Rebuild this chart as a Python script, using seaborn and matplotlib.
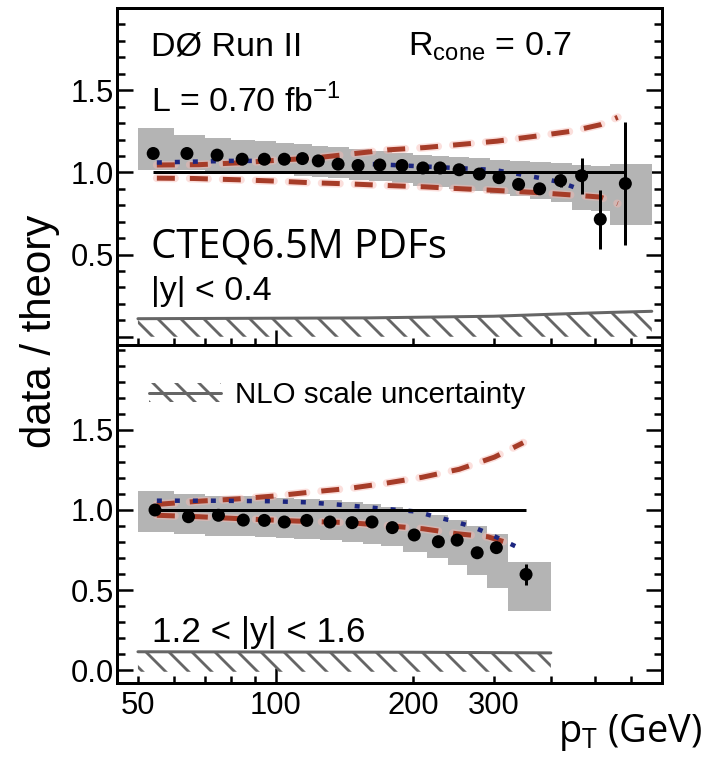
import matplotlib
matplotlib.use("Agg")
import matplotlib.pyplot as plt
import seaborn as sns
from matplotlib.patches import Patch
from matplotlib.lines import Line2D
from matplotlib.ticker import MultipleLocator, FuncFormatter, LogLocator, NullFormatter

DPI = 138
W, H = 708, 760
PT = 72 / DPI  # points per pixel

# ---------------- |y| < 0.4 ----------------
pt_central = [54, 64, 74.5, 84.5, 94.5, 104.5, 114.5, 124, 137, 151.5, 169, 189,
              210, 229, 252, 279, 308, 340, 378, 420, 467, 513, 582]
ratio_central = [1.115, 1.115, 1.105, 1.08, 1.08, 1.08, 1.084, 1.07, 1.05, 1.042, 1.045, 1.042,
                 1.027, 1.027, 1.016, 0.99, 0.968, 0.927, 0.90, 0.95, 0.98, 0.715, 0.932]
err_central = [0, 0, 0, 0, 0, 0, 0, 0, 0, 0, 0, 0,
               0, 0, 0, 0, 0, 0, 0, 0.04, 0.11, 0.18, 0.375]
edges_central = [50, 60, 70, 80, 90, 100, 110, 120, 130, 145, 160, 180, 200, 220, 240,
                 265, 295, 325, 360, 400, 445, 490, 540, 665]
syst_hi_central = [1.27, 1.225, 1.21, 1.20, 1.19, 1.18, 1.17, 1.163, 1.152, 1.14, 1.13, 1.118,
                   1.108, 1.10, 1.092, 1.085, 1.078, 1.07, 1.063, 1.055, 1.045, 1.04, 1.05]
syst_lo_central = [1.012, 1.012, 1.005, 1.0, 0.995, 0.99, 0.98, 0.975, 0.965, 0.955, 0.945, 0.935,
                   0.92, 0.91, 0.90, 0.885, 0.87, 0.855, 0.84, 0.82, 0.77, 0.765, 0.68]
pdf_up_pt_central = [55, 68, 83, 101, 122, 146, 176, 212, 256, 305, 370, 443, 513, 560]
pdf_up_central = [1.045, 1.047, 1.058, 1.074, 1.088, 1.112, 1.137, 1.151, 1.171, 1.19,
                  1.22, 1.25, 1.29, 1.335]
pdf_dn_pt_central = [55, 66, 83, 100, 120, 145, 176, 212, 256, 305, 368, 443, 513, 560]
pdf_dn_central = [0.965, 0.963, 0.955, 0.947, 0.937, 0.93, 0.92, 0.912, 0.90, 0.89,
                  0.878, 0.863, 0.85, 0.81]
alt_pt_central = [55, 65, 80, 100, 120, 150, 180, 215, 255, 300, 340, 380, 420, 470]
alt_central = [1.06, 1.065, 1.07, 1.07, 1.065, 1.055, 1.045, 1.035, 1.025, 1.015,
               0.99, 0.965, 0.94, 0.89]
scale_pt_central = [50, 160, 300, 410, 535, 665]
scale_top_central = [0.11, 0.115, 0.125, 0.138, 0.148, 0.155]

# ---------------- 1.2 < |y| < 1.6 ----------------
pt_fwd = [54.5, 64.5, 75, 85, 94.5, 104.5, 117, 131.5, 147, 162.5, 180, 201, 227, 249.5,
          276, 304, 353]
ratio_fwd = [1.0, 0.958, 0.967, 0.937, 0.935, 0.925, 0.935, 0.925, 0.921, 0.925, 0.89,
             0.844, 0.802, 0.812, 0.733, 0.765, 0.598]
err_fwd = [0, 0, 0, 0, 0, 0, 0, 0, 0, 0, 0, 0, 0, 0, 0, 0, 0.067]
edges_fwd = [50, 60, 70, 80, 90, 100, 110, 125, 140, 155, 170, 190, 214, 238, 262, 290, 322, 400]
syst_hi_fwd = [1.12, 1.10, 1.09, 1.085, 1.08, 1.075, 1.07, 1.06, 1.05, 1.04, 1.02, 1.0,
               0.97, 0.94, 0.90, 0.85, 0.675]
syst_lo_fwd = [0.86, 0.848, 0.84, 0.835, 0.83, 0.825, 0.82, 0.81, 0.80, 0.79, 0.775, 0.735,
               0.70, 0.655, 0.595, 0.515, 0.37]
pdf_up_pt_fwd = [55, 69, 82.5, 100, 120.6, 145, 174, 209, 252, 301, 348]
pdf_up_fwd = [1.035, 1.056, 1.069, 1.088, 1.113, 1.135, 1.167, 1.204, 1.254, 1.33, 1.42]
pdf_dn_pt_fwd = [55, 68, 83, 111, 145, 172, 210, 249, 291, 321]
pdf_dn_fwd = [0.967, 0.958, 0.946, 0.931, 0.921, 0.904, 0.883, 0.852, 0.833, 0.796]
alt_pt_fwd = [55, 72, 97, 117, 141, 169, 204, 222, 245, 269, 292, 346]
alt_fwd = [1.058, 1.058, 1.055, 1.048, 1.031, 1.01, 0.99, 0.96, 0.93, 0.896, 0.854, 0.754]
scale_pt_fwd = [50, 200, 400]
scale_top_fwd = [0.115, 0.112, 0.108]

# ---------------- style ----------------
sns.set_theme(style="ticks")
plt.rcParams["font.family"] = ["Liberation Sans", "DejaVu Sans"]
plt.rcParams["mathtext.fontset"] = "custom"
plt.rcParams["mathtext.rm"] = "Liberation Sans"
plt.rcParams["mathtext.sf"] = "Open Sans"
plt.rcParams["hatch.linewidth"] = 2.8 * PT
plt.rcParams["lines.scale_dashes"] = False
for key in ("text.color", "axes.labelcolor", "xtick.color", "ytick.color", "axes.edgecolor"):
    plt.rcParams[key] = "black"

BAND = "#b4b4b4"
RED = "#a63c28"
GLOW = "#f7b9b2"
BLUE = "#1c2680"
HATCH = "#666666"
HATCH_STYLE = "\\\\"

fig = plt.figure(figsize=(W / DPI, H / DPI), dpi=DPI)
fig.patch.set_facecolor("white")


def fx(x):
    return x / W


def fy(y):
    return 1 - y / H


ax_l, ax_r = 117, 662
ax_top, ax_mid, ax_bot = 8, 345, 683
ax_up = fig.add_axes([fx(ax_l), fy(ax_mid), (ax_r - ax_l) / W, (ax_mid - ax_top) / H])
ax_dn = fig.add_axes([fx(ax_l), fy(ax_bot), (ax_r - ax_l) / W, (ax_bot - ax_mid) / H])


def draw_panel(ax, pt, ratio, err, edges, hi, lo, up_pt, up, dn_pt, dn, alt_pt, alt,
               sc_pt, sc_top, sc_bottom):
    # total systematic uncertainty band
    ax.fill_between(edges, lo + [lo[-1]], hi + [hi[-1]], step="post",
                    color=BAND, lw=0, zorder=1)
    # NLO scale uncertainty (hatched)
    ax.fill_between(sc_pt, [sc_bottom] * len(sc_pt), sc_top, facecolor="none",
                    edgecolor=HATCH, hatch=HATCH_STYLE, lw=0, zorder=2)
    sns.lineplot(x=sc_pt, y=sc_top, ax=ax, color=HATCH, lw=3 * PT, zorder=2)
    # PDF uncertainty (dashed, with soft halo)
    dash = (0, (18 * PT, 15 * PT))
    for xs, ys in ((up_pt, up), (dn_pt, dn)):
        sns.lineplot(x=xs, y=ys, ax=ax, color=GLOW, lw=8 * PT, linestyle=dash,
                     alpha=0.45, dash_capstyle="round", zorder=3)
        sns.lineplot(x=xs, y=ys, ax=ax, color=RED, lw=5 * PT, linestyle=dash, zorder=4)
    # alternative PDF (dotted)
    sns.lineplot(x=alt_pt, y=alt, ax=ax, color=BLUE, lw=4.5 * PT,
                 linestyle=(0, (5 * PT, 13 * PT)), zorder=5)
    # unity reference
    ax.hlines(1.0, pt[0], pt[-1], color="black", lw=3 * PT, zorder=6)
    # data
    ax.errorbar(pt, ratio, yerr=err, fmt="none", ecolor="black", elinewidth=3 * PT,
                capsize=0, zorder=7)
    sns.scatterplot(x=pt, y=ratio, ax=ax, color="black", s=(13 * PT) ** 2,
                    edgecolor="none", zorder=8)


draw_panel(ax_up, pt_central, ratio_central, err_central, edges_central,
           syst_hi_central, syst_lo_central, pdf_up_pt_central, pdf_up_central,
           pdf_dn_pt_central, pdf_dn_central, alt_pt_central, alt_central,
           scale_pt_central, scale_top_central, 0.0)
draw_panel(ax_dn, pt_fwd, ratio_fwd, err_fwd, edges_fwd, syst_hi_fwd, syst_lo_fwd,
           pdf_up_pt_fwd, pdf_up_fwd, pdf_dn_pt_fwd, pdf_dn_fwd, alt_pt_fwd, alt_fwd,
           scale_pt_fwd, scale_top_fwd, -0.01)

TICK_FS = 31 * PT
shown_x = {50: "50", 100: "100", 200: "200", 300: "300"}


def fmt_x(v, _):
    return shown_x.get(int(round(v)), "")


for ax, ylo, yhi, ylabels in ((ax_up, -0.05, 2.0, ["", "0.5", "1.0", "1.5"]),
                              (ax_dn, -0.08, 2.03, ["0.0", "0.5", "1.0", "1.5"])):
    ax.set_xscale("log")
    ax.set_xlim(45, 700)
    ax.set_ylim(ylo, yhi)
    ax.set_xlabel("")
    ax.set_ylabel("")
    ax.set_yticks([0.0, 0.5, 1.0, 1.5])
    ax.set_yticklabels(ylabels)
    ax.yaxis.set_minor_locator(MultipleLocator(0.1))
    ax.xaxis.set_major_locator(LogLocator(base=10))
    ax.xaxis.set_minor_locator(LogLocator(base=10, subs=(2, 3, 4, 5, 6, 7, 8, 9)))
    for sp in ax.spines.values():
        sp.set_linewidth(3 * PT)
        sp.set_color("black")
        sp.set_visible(True)
    ax.tick_params(axis="y", which="both", direction="in", left=True, right=True,
                   width=2.5 * PT, labelsize=TICK_FS, pad=3 * PT, colors="black")
    ax.tick_params(axis="y", which="major", length=16 * PT)
    ax.tick_params(axis="y", which="minor", length=8 * PT)
    ax.tick_params(axis="x", which="both", direction="in", bottom=True, top=False,
                   width=2.5 * PT, labelsize=TICK_FS, pad=8 * PT, colors="black")
    ax.tick_params(axis="x", which="major", length=15 * PT)
    ax.tick_params(axis="x", which="minor", length=7 * PT)
    ax.set_facecolor("white")

ax_up.xaxis.set_major_formatter(NullFormatter())
ax_up.xaxis.set_minor_formatter(NullFormatter())
ax_dn.xaxis.set_major_formatter(FuncFormatter(fmt_x))
ax_dn.xaxis.set_minor_formatter(FuncFormatter(fmt_x))

# legend for the hatched band
hatch_handle = (Patch(facecolor="none", edgecolor=HATCH, hatch=HATCH_STYLE, lw=0),
                Line2D([], [], color=HATCH, lw=3 * PT))
LEG_FS = 29.5
ax_dn.legend([hatch_handle], ["NLO scale uncertainty"], loc="center left",
             bbox_to_anchor=(fx(149), fy(395)), bbox_transform=fig.transFigure,
             frameon=False, borderaxespad=0, borderpad=0,
             handlelength=72 / LEG_FS, handleheight=17 / LEG_FS,
             handletextpad=14 / LEG_FS, fontsize=LEG_FS * PT, labelcolor="black")

TXT_FS = 34 * PT
fig.text(fx(151), fy(55), "DØ Run II", fontsize=TXT_FS, va="baseline", ha="left")
fig.text(fx(408), fy(55), r"R$_{\mathrm{cone}}$ = 0.7", fontsize=TXT_FS, va="baseline",
         ha="left")
fig.text(fx(151), fy(112), r"L = 0.70 fb$^{\mathrm{-1}}$", fontsize=TXT_FS, va="baseline",
         ha="left")
fig.text(fx(151), fy(257), "CTEQ6.5M PDFs", fontsize=40 * PT, va="baseline", ha="left",
         family=["Open Sans", "DejaVu Sans"])
fig.text(fx(151), fy(300), "|y| < 0.4", fontsize=TXT_FS, va="baseline", ha="left")
fig.text(fx(152), fy(642), "1.2 < |y| < 1.6", fontsize=35 * PT, va="baseline", ha="left")
fig.text(fx(40), fy(331), "data / theory", fontsize=42 * PT, rotation=90,
         va="center", ha="center")
fig.text(fx(702), fy(742), r"p$_{\mathsf{T}}$ (GeV)", fontsize=38 * PT, va="baseline",
         ha="right", family=["Open Sans", "DejaVu Sans"])

fig.savefig("out.png", dpi=DPI, facecolor="white")
